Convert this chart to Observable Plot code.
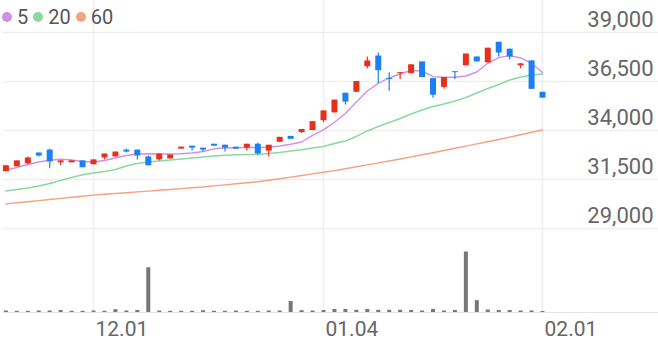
<!DOCTYPE html>
<html><head><meta charset="utf-8">
<script src="https://cdn.jsdelivr.net/npm/d3@7"></script>
<script src="https://cdn.jsdelivr.net/npm/@observablehq/plot@0.6"></script>
<style>
body{margin:0;background:#fff;}
#wrap{position:relative;width:658px;height:342px;overflow:hidden;font-family:Roboto,sans-serif;background:#fff;}
#wrap svg{position:absolute;left:0;top:0;}
#legend{position:absolute;left:2px;top:7px;height:20px;display:flex;align-items:center;font-size:20px;line-height:20px;color:#555;z-index:3;}
#legend .dot{width:10px;height:10px;border-radius:50%;margin-right:5px;}
#legend .lab{margin-right:5px;}
</style>
</head><body>
<div id="wrap"><div id="legend"></div></div>
<script>
// ---- data (trading days 2023-11-21 .. 2024-02-01) ----
const open  = [31900,32150,32300,32850,33000,32350,32350,32450,32250,32600,32650,33000,33000,32650,32500,32550,33050,33200,33100,33300,33250,33150,33100,33300,32950,33400,33700,33900,34000,34500,34900,35900,35950,37250,37800,36650,36900,36900,37500,36650,36200,37000,37300,37750,37450,38500,38150,37300,37550,35950];
const high  = [32200,32450,32650,32850,33050,32450,32450,32450,32500,32800,32900,33050,33000,32700,32800,32750,33150,33200,33100,33300,33250,33150,33300,33350,33250,33650,33700,34050,34450,35000,35550,35900,36500,37750,37950,36950,36950,37350,37500,36650,36700,37000,37900,37750,38200,38500,38150,37400,37550,35950];
const low   = [31900,32150,32250,32650,32050,32200,32350,32100,32250,32500,32650,32850,32500,32200,32450,32550,33050,32950,32900,33200,32900,33050,32950,32750,32650,33400,33550,33850,34000,34400,34900,35300,35950,37150,36400,36000,36600,36900,36700,35650,36100,36600,37300,37500,37450,37750,37600,37150,36100,35650];
const close = [32200,32450,32600,32700,32400,32450,32450,32100,32500,32800,32900,32900,32700,32200,32800,32750,33150,33100,33000,33200,33100,33050,33300,32800,33250,33650,33550,34050,34450,35000,35550,35450,36500,37550,37050,36600,36950,37350,36700,35800,36700,36950,37900,37500,38200,37950,37750,37400,36100,35650];
const volume = [15,12,12,15,15,20,12,12,15,12,28,15,20,447,15,12,12,12,18,12,12,15,12,12,15,15,110,18,15,20,30,30,22,30,22,22,22,20,15,30,15,20,605,118,25,20,20,15,15,10];
const ma5  = [31985,32112,32265,32393,32480,32531,32495,32418,32393,32469,32597,32725,32801,32812,32801,32801,32816,32852,32929,33066,33107,33117,33133,33133,33148,33209,33296,33413,33750,34030,34420,34867,35450,36015,36408,36679,36883,37061,37036,36750,36719,36719,36781,36985,37430,37720,37820,37700,37420,36960];
const ma20 = [30913,30990,31066,31168,31296,31449,31602,31745,31832,31908,32010,32189,32316,32393,32444,32495,32546,32597,32648,32699,32735,32760,32776,32776,32827,32878,32954,33020,33107,33184,33337,33464,33694,33975,34204,34408,34612,34842,35046,35225,35352,35505,35684,35913,36143,36347,36577,36730,36832,36883];
const ma60 = [30255,30311,30367,30424,30480,30536,30592,30648,30704,30745,30786,30827,30867,30908,30949,30990,31036,31077,31117,31174,31225,31281,31332,31383,31459,31541,31622,31704,31786,31867,31954,32051,32148,32245,32347,32444,32546,32653,32760,32867,32980,33092,33204,33316,33429,33541,33663,33786,33908,34026];
const yTicks = [29000,31500,34000,36500,39000];
const xTickIdx = [8,29,49];
const xTickLabels = ["12.01","01.04","02.01"];
const maNames = ["5","20","60"];
const maColors = ["#d38fe6","#8ad9a0","#f5a27e"];
const upColor = "#e6301c", downColor = "#1b80f2";

// ---- tables built from arrays ----
const idx = d3.range(open.length);
const candles = idx.map(i => ({i, open: open[i], high: high[i], low: low[i], close: close[i], vol: volume[i],
  color: close[i] >= open[i] ? upColor : downColor}));
const maSeries = [ma5, ma20, ma60];
const maRows = maSeries.flatMap((arr, k) => arr.map((v, i) => ({i, v, k})));

const xDomain = [-0.22, 59.59];
const style = {fontFamily: "Roboto, sans-serif", background: "transparent", overflow: "visible"};

const pricePlot = Plot.plot({
  width: 658, height: 342,
  marginLeft: 3, marginRight: 0, marginTop: 32, marginBottom: 114,
  x: {domain: xDomain, axis: null, label: null},
  y: {domain: [29000, 39000], axis: null, label: null},
  style,
  marks: [
    Plot.gridY(yTicks, {stroke: "#eeeeee", strokeOpacity: 1, strokeWidth: 1.5}),
    Plot.axisY(yTicks, {anchor: "right", tickSize: 0, tickPadding: 0, textAnchor: "end", label: null,
      lineAnchor: "bottom", dx: -5, dy: -6, tickFormat: d3.format(","), fontSize: 22, fill: "#666"}),
    ...[2, 1, 0].map(k => Plot.line(maRows.filter(d => d.k === k),
      {x: "i", y: "v", stroke: maColors[k], strokeWidth: 1.4})),
    Plot.ruleX(candles, {x: "i", y1: "low", y2: "high", stroke: "color", strokeWidth: 1.2}),
    Plot.ruleX(candles, {x: "i", y1: "open", y2: "close", stroke: "color", strokeWidth: 6})
  ]
});

const volPlot = Plot.plot({
  width: 658, height: 342,
  marginLeft: 3, marginRight: 0, marginTop: 0, marginBottom: 30,
  x: {domain: xDomain, axis: null, label: null},
  y: {domain: [0, 3120], axis: null, label: null},
  style,
  marks: [
    Plot.gridX(xTickIdx, {stroke: "#eeeeee", strokeOpacity: 1, strokeWidth: 1.5}),
    Plot.ruleY([0], {stroke: "#e2e2e2", strokeWidth: 1}),
    Plot.ruleX(candles, {x: "i", y: "vol", stroke: "#777", strokeWidth: 4}),
    Plot.axisX(xTickIdx, {anchor: "bottom", tickSize: 0, tickPadding: 9, textAnchor: "start", dx: 2, label: null,
      tickFormat: d => xTickLabels[xTickIdx.indexOf(d)], fontSize: 21, fill: "#666"})
  ]
});

const wrap = document.getElementById("wrap");
wrap.appendChild(volPlot);
wrap.appendChild(pricePlot);

const legend = document.getElementById("legend");
maNames.forEach((n, k) => {
  const dot = document.createElement("span");
  dot.className = "dot"; dot.style.background = maColors[k];
  const lab = document.createElement("span");
  lab.className = "lab"; lab.textContent = n;
  legend.appendChild(dot); legend.appendChild(lab);
});
</script>
</body></html>
